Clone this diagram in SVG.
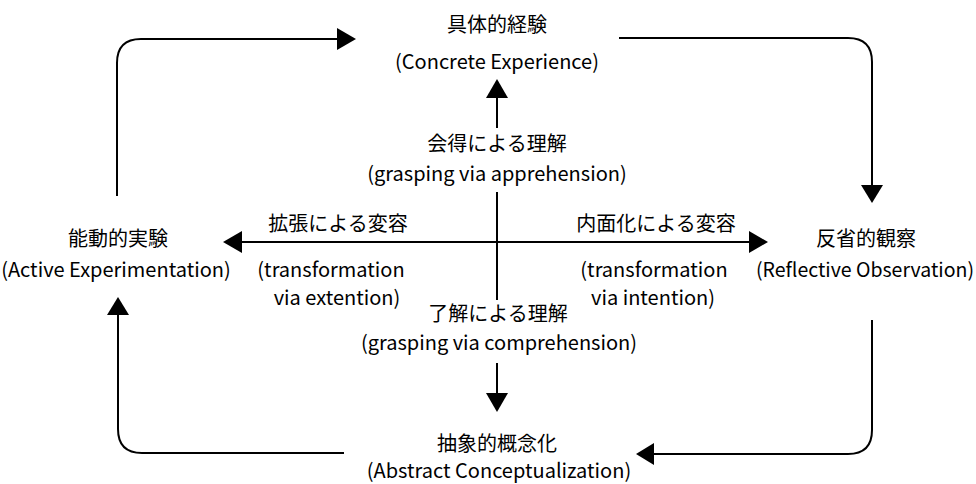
<svg xmlns="http://www.w3.org/2000/svg" width="976" height="484" viewBox="0 0 976 484">
  <style>
    text { font-family: "Noto Sans CJK JP", "Noto Sans", sans-serif; font-size: 20px; fill: #000; text-anchor: middle; }
    .conn path, .conn line { stroke: #000; stroke-width: 2; fill: none; }
    .head { fill: #000; stroke: none; }
  </style>
  <rect width="976" height="484" fill="#fff"/>

  <!-- connectors -->
  <g id="connectors" class="conn">
    <!-- outer cycle -->
    <path d="M117 196 V63 Q117 39 141 39 H338"/>
    <polygon class="head" points="356,39 337,28 337,50"/>
    <path d="M619 38 H848 Q872 38 872 62 V186"/>
    <polygon class="head" points="872,203 861,185 883,185"/>
    <path d="M872 320 V430 Q872 454 848 454 H654"/>
    <polygon class="head" points="636,454 654,443 654,465"/>
    <path d="M344 453 H142 Q118 453 118 429 V313"/>
    <polygon class="head" points="118,297 107,315 129,315"/>
    <!-- inner axes -->
    <line x1="497" y1="97" x2="497" y2="128"/>
    <polygon class="head" points="497,79 486,98 508,98"/>
    <line x1="497" y1="192" x2="497" y2="300"/>
    <line x1="241" y1="242" x2="750" y2="242"/>
    <polygon class="head" points="223,242 242,231 242,253"/>
    <polygon class="head" points="768,242 749,231 749,253"/>
    <line x1="497" y1="363" x2="497" y2="394"/>
    <polygon class="head" points="497,412 486,393 508,393"/>
  </g>

  <!-- stages -->
  <g id="concrete-experience">
    <text x="497" y="32">具体的経験</text>
    <text x="497" y="69">(Concrete Experience)</text>
  </g>
  <g id="reflective-observation">
    <text x="866" y="246">反省的観察</text>
    <text x="865" y="277" style="font-size:19.5px">(Reflective Observation)</text>
  </g>
  <g id="abstract-conceptualization">
    <text x="497" y="451">抽象的概念化</text>
    <text x="499" y="478">(Abstract Conceptualization)</text>
  </g>
  <g id="active-experimentation">
    <text x="118" y="246">能動的実験</text>
    <text x="116" y="277">(Active Experimentation)</text>
  </g>

  <!-- axis labels -->
  <g id="apprehension">
    <text x="497" y="151">会得による理解</text>
    <text x="497" y="181">(grasping via apprehension)</text>
  </g>
  <g id="comprehension">
    <text x="498" y="321">了解による理解</text>
    <text x="499" y="350">(grasping via comprehension)</text>
  </g>
  <g id="extension">
    <text x="338" y="231">拡張による変容</text>
    <text x="331" y="277">(transformation</text>
    <text x="337" y="305">via extention)</text>
  </g>
  <g id="intention">
    <text x="656" y="231">内面化による変容</text>
    <text x="654" y="277">(transformation</text>
    <text x="653" y="305">via intention)</text>
  </g>
</svg>
